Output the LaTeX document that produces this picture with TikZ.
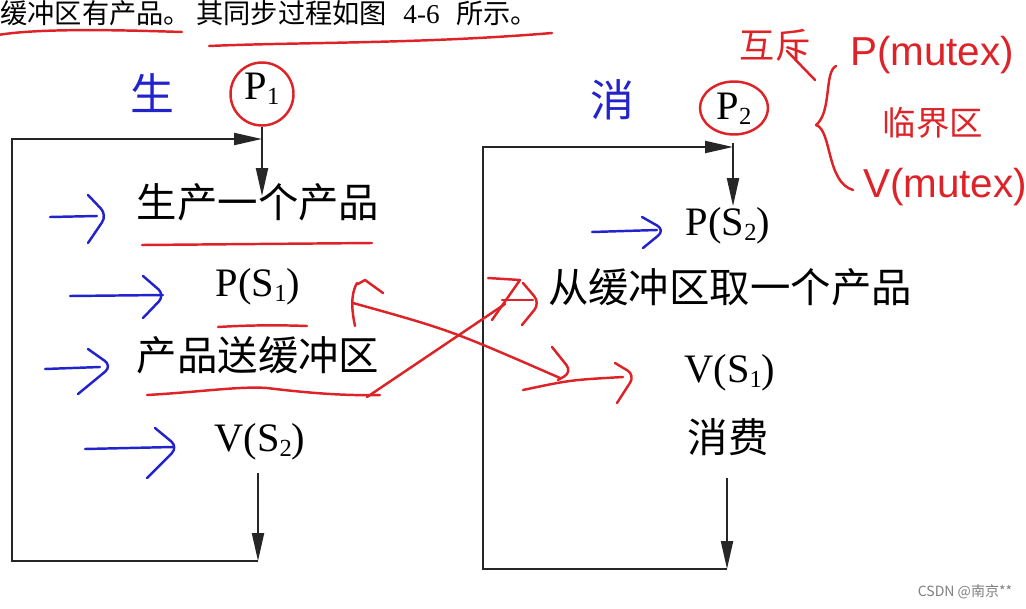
\documentclass[tikz,border=0pt]{standalone}
\usepackage{fontspec}
\setmainfont{Liberation Serif}
\setsansfont{Liberation Sans}
\newfontfamily\cjk{Noto Sans CJK SC}
\usetikzlibrary{arrows.meta,shapes.geometric}

\definecolor{penred}{RGB}{222,35,40}
\definecolor{penblue}{RGB}{35,35,205}

\newcommand{\lowidx}[1]{\raisebox{-0.1em}{\fontsize{14}{14}\selectfont #1}}

\tikzset{
	op/.style={font=\fontsize{23}{27}\selectfont, inner sep=0pt, text height=0.8em, text depth=0.12em},
	flow/.style={line width=1.2pt, black!85, -{Triangle[length=0.56cm,width=0.24cm]}},
	pen/.style={line width=1.4pt, line cap=round, line join=round},
}

\begin{document}
\begin{tikzpicture}[x=0.02cm,y=-0.02cm]
		
		\useasboundingbox (0,0) rectangle (1026,608);
		\clip (0,0) rectangle (1026,608);
		\fill[white] (0,0) rectangle (1026,608);
		
		% Text line at the top
		
		\node[anchor=west, inner sep=0pt, font=\fontsize{15.5}{18}\selectfont]
		(intro) at (0,13) {{\cjk 缓冲区有产品。}\hspace{0.2em}{\cjk 其同步过程如图}\hspace{0.6em}4-6\hspace{0.6em}{\cjk 所示。}};
		
		% Producer
		
		\node[circle, draw=penred, pen, op, minimum size=1.26cm]
		(p1) at (262,94) {P\lowidx{1}};
		
		\node[op] (prod) at (258,212) {\cjk 生产一个产品};
		
		\node[op] (ps1) at (258,291) {P(S\lowidx{1})};
		
		\node[op] (put) at (258,365) {\cjk 产品送缓冲区};
		
		\node[op] (vs2) at (260,446) {V(S\lowidx{2})};
		
		\coordinate (top1) at (12,139);
		\coordinate (join1) at (262,139);
		\coordinate (corner1) at (12,561);
		\coordinate (bot1) at (258,561);
		
		\draw[flow, shorten >=0.15cm] (p1.south) -- (p1.south |- prod.north);
		
		\draw[flow, shorten <=0.38cm] (bot1 |- vs2.south) -- (bot1);
		
		\draw[flow] (bot1) -- (corner1) -- (top1) -- (join1);
		
		% Consumer
		
		\node[ellipse, draw=penred, pen, op, minimum width=1.36cm, minimum height=1.06cm]
		(p2) at (734,108) {\raisebox{-0.12cm}{P\lowidx{2}}};
		
		\node[op] (ps2) at (728,230) {P(S\lowidx{2})};
		
		\node[op] (take) at (730,297) {\cjk 从缓冲区取一个产品};
		
		\node[op] (vs1) at (730,377) {V(S\lowidx{1})};
		
		\node[op] (cons) at (728,447) {\cjk 消费};
		
		\coordinate (top2) at (483,147);
		\coordinate (join2) at (733,147);
		\coordinate (corner2) at (483,569);
		\coordinate (bot2) at (727,569);
		
		\draw[flow, shorten <=-0.08cm, shorten >=0.31cm] (join2) -- (join2 |- ps2.north);
		
		\draw[flow, shorten <=0.45cm] (bot2 |- cons.south) -- (bot2);
		
		\draw[flow] (bot2) -- (corner2) -- (top2) -- (join2);
		
		% Pen marks: underlines
		
		\draw[pen, penred] (-2,35) .. controls (40,28) and (120,30) .. (182,32);
		\draw[pen, penred] (209,46) .. controls (300,42) and (420,44) .. (552,33);
		\draw[pen, penred] (142,245) -- (372,243);
		\draw[pen, penred] (218,327) .. controls (250,325) and (280,325) .. (307,326);
		\draw[pen, penred] (147,395) .. controls (200,392) and (240,386) .. (267,388)
		.. controls (300,392) and (340,396) .. (380,395);
		
		% Pen marks: blue arrows
		
		\node[penblue, font=\cjk\fontsize{25}{27}\selectfont] (sheng) at (152,93) {生};
		\node[penblue, font=\cjk\fontsize{25}{27}\selectfont] (xiao) at (612,100) {消};
		
		\draw[pen, penblue] (50,217) -- (97,216);
		\draw[pen, penblue, rounded corners=5pt] (88,195) -- (107,215) -- (88,243);
		
		\draw[pen, penblue] (70,296) -- (163,295);
		\draw[pen, penblue, rounded corners=5pt] (143,276) -- (165,295) -- (143,318);
		
		\draw[pen, penblue] (45,369) -- (100,367);
		\draw[pen, penblue, rounded corners=5pt] (88,349) -- (112,366) -- (78,394);
		
		\draw[pen, penblue] (85,449) -- (173,447);
		\draw[pen, penblue, rounded corners=5pt] (155,428) -- (178,447) -- (147,478);
		
		\draw[pen, penblue] (592,232) -- (657,230);
		\draw[pen, penblue, rounded corners=5pt] (642,217) -- (665,230) -- (643,248);
		
		% Pen marks: red crossing arrows
		
		\draw[pen, penred] (367,397) -- (505,304);
		\draw[pen, penred] (488,278) -- (520,280) -- (492,320);
		\draw[pen, penred] (502,300) -- (533,300);
		\draw[pen, penred, rounded corners=5pt] (523,283) -- (540,303) -- (522,325);
		
		\draw[pen, penred] (357,283) .. controls (350,295) and (352,312) .. (355,326);
		\draw[pen, penred] (358,284) -- (365,280) -- (383,293);
		\draw[pen, penred] (353,303) .. controls (450,330) .. (560,378);
		\draw[pen, penred, rounded corners=5pt] (552,347) -- (572,372) -- (558,380);
		\draw[pen, penred] (523,390) .. controls (570,380) .. (623,377);
		\draw[pen, penred, rounded corners=5pt] (615,363) -- (635,375) -- (617,403);
		
		% Pen marks: mutex note
		
		\node[penred, font=\cjk\fontsize{20}{22}\selectfont] (mutex) at (775,45) {互斥};
		\coordinate (braceend) at (815,80);
		\draw[pen, penred] ([xshift=0.24cm,yshift=-0.12cm]mutex.center) -- (braceend);
		
		\draw[pen, penred] (836,66) .. controls (824,72) and (832,112) .. (816,125)
		.. controls (832,130) and (826,182) .. (853,190);
		
		\node[penred, font=\sffamily\fontsize{23}{25}\selectfont] (pm) at (932,55) {P(mutex)};
		\node[penred, font=\cjk\fontsize{19}{22}\selectfont] (crit) at (933,123) {临界区};
		\node[penred, font=\sffamily\fontsize{23}{25}\selectfont] (vm) at (945,187) {V(mutex)};
		
		% Watermark
		
		\node[gray, font=\cjk\fontsize{8}{9}\selectfont] (mark) at (965,592) {CSDN @南京**};
		
	\end{tikzpicture}
\end{document}
